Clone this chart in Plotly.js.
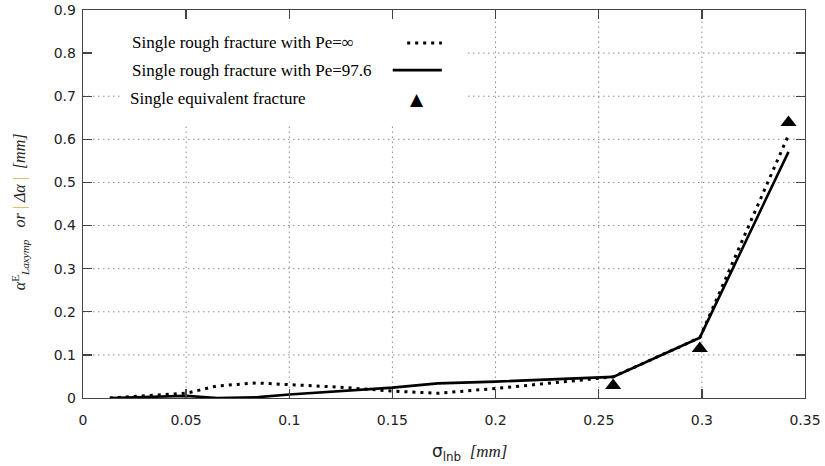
<!DOCTYPE html>
<html>
<head>
<meta charset="utf-8">
<script src="https://cdn.plot.ly/plotly-3.0.1.min.js"></script>
<style>html,body{margin:0;padding:0;background:#fff;}</style>
</head>
<body>
<div id="chart" style="width:825px;height:466px;"></div>
<script>
// Series: single rough fracture with Pe = infinity (dotted)
const xPeInf = [0.013, 0.03, 0.05, 0.065, 0.084, 0.1, 0.125, 0.15, 0.172, 0.2, 0.23, 0.257, 0.299, 0.342];
const yPeInf = [0.0, 0.005, 0.011, 0.028, 0.035, 0.031, 0.025, 0.016, 0.011, 0.022, 0.037, 0.049, 0.14, 0.61];
// Series: single rough fracture with Pe = 97.6 (solid)
const xPe976 = [0.013, 0.03, 0.05, 0.065, 0.085, 0.1, 0.13, 0.15, 0.172, 0.2, 0.257, 0.299, 0.342];
const yPe976 = [0.0, 0.003, 0.005, 0.0, 0.002, 0.008, 0.018, 0.024, 0.034, 0.038, 0.049, 0.14, 0.571];
// Series: single equivalent fracture (triangles)
const xEq = [0.257, 0.299, 0.342];
const yEq = [0.029, 0.115, 0.639];

const legendLabels = ["Single rough fracture with Pe=\u221e", "Single rough fracture with Pe=97.6", "Single equivalent fracture"];
const xTicks = [0, 0.05, 0.1, 0.15, 0.2, 0.25, 0.3, 0.35];
const xTickText = ["0", "0.05", "0.1", "0.15", "0.2", "0.25", "0.3", "0.35"];
const yTicks = [0, 0.1, 0.2, 0.3, 0.4, 0.5, 0.6, 0.7, 0.8, 0.9];
const yTickText = ["0", "0.1", "0.2", "0.3", "0.4", "0.5", "0.6", "0.7", "0.8", "0.9"];

const dotDash = "3px,5px";
const gridStyle = {color: "#8c8c8c", width: 1, dash: "1.5px,3.5px"};

const traces = [
  {x: xPeInf, y: yPeInf, mode: "lines", name: legendLabels[0],
   line: {color: "#000", width: 3, dash: dotDash}},
  {x: xPe976, y: yPe976, mode: "lines", name: legendLabels[1],
   line: {color: "#000", width: 2.6}},
  {x: xEq, y: yEq, mode: "markers", name: legendLabels[2],
   marker: {symbol: "triangle-up", size: 14, color: "#000"}}
];

const serif = "Liberation Serif, Times New Roman, serif";
const sans = "DejaVu Sans, Verdana, sans-serif";

const legY = [0.915, 0.845, 0.771];

const axisCommon = {
  showline: true, linecolor: "#444", linewidth: 1.3, mirror: "ticks",
  ticks: "inside", ticklen: 9, tickcolor: "#444", tickwidth: 1.3,
  showgrid: false, zeroline: false, tickfont: {family: sans, size: 14, color: "#222"}
};

// dotted grid (interior ticks only), drawn as shapes in the plot's lower shape layer
const gridShapes = [];
xTicks.slice(1, -1).forEach(v => gridShapes.push({type: "line", xref: "x", yref: "y",
  x0: v, x1: v, y0: yTicks[0], y1: yTicks[yTicks.length - 1], line: gridStyle, layer: "below"}));
yTicks.slice(1, -1).forEach(v => gridShapes.push({type: "line", xref: "x", yref: "y",
  x0: xTicks[0], x1: xTicks[xTicks.length - 1], y0: v, y1: v, line: gridStyle, layer: "below"}));

const layout = {
  width: 825, height: 466,
  margin: {l: 83, r: 20, t: 10, b: 68},
  paper_bgcolor: "#fff", plot_bgcolor: "#fff",
  showlegend: false,
  font: {family: sans, size: 14, color: "#222"},
  xaxis: Object.assign({range: [0, 0.35], tickvals: xTicks, ticktext: xTickText, ticklabelstandoff: 9}, axisCommon),
  yaxis: Object.assign({range: [0, 0.9], tickvals: yTicks, ticktext: yTickText, ticklabelstandoff: 3}, axisCommon),
  shapes: gridShapes.concat([
    // white backdrop behind the legend (covers the gridlines)
    {type: "rect", xref: "x", yref: "y", x0: 0.0194, x1: 0.186, y0: 0.638, y1: 0.9,
     fillcolor: "#fff", line: {width: 0}, layer: "below"},
    {type: "rect", xref: "x", yref: "y", x0: 0.0, x1: 0.186, y0: 0.75, y1: 0.9,
     fillcolor: "#fff", line: {width: 0}, layer: "below"},
    // legend samples
    {type: "line", xref: "paper", yref: "paper", x0: 0.449, x1: 0.497, y0: legY[0], y1: legY[0],
     line: {color: "#000", width: 3, dash: dotDash}},
    {type: "line", xref: "paper", yref: "paper", x0: 0.429, x1: 0.497, y0: legY[1], y1: legY[1],
     line: {color: "#000", width: 2.6}}
  ]),
  annotations: [
    {xref: "paper", yref: "paper", x: 0.065, y: legY[0], xanchor: "left", yanchor: "middle",
     text: legendLabels[0], showarrow: false, font: {family: serif, size: 17, color: "#000"}},
    {xref: "paper", yref: "paper", x: 0.065, y: legY[1], xanchor: "left", yanchor: "middle",
     text: legendLabels[1], showarrow: false, font: {family: serif, size: 17, color: "#000"}},
    {xref: "paper", yref: "paper", x: 0.062, y: legY[2], xanchor: "left", yanchor: "middle",
     text: legendLabels[2], showarrow: false, font: {family: serif, size: 17, color: "#000"}},
    {xref: "paper", yref: "paper", x: 0.4626, y: legY[2], xanchor: "center", yanchor: "middle",
     text: "\u25b2", showarrow: false, font: {family: sans, size: 17, color: "#000"}},
    // x axis title
    {xref: "paper", yref: "paper", x: 0.536, y: -0.14, xanchor: "center", yanchor: "middle",
     showarrow: false,
     text: "<span style='font-family:DejaVu Sans'>\u03c3<sub>lnb</sub></span>  <i>[mm]</i>",
     font: {family: serif, size: 17, color: "#222"}},
    // y axis title
    {xref: "paper", yref: "paper", x: -0.088, y: 0.48, xanchor: "center", yanchor: "middle",
     showarrow: false, textangle: -90,
     text: "<i>\u03b1</i><sup>E</sup><sub><i>Laxymp</i></sub>   <i>or</i> <span style='color:#e0b040'>|</span> <i>\u0394\u03b1</i> <span style='color:#e0b040'>|</span>  <i>[mm]</i>",
     font: {family: serif, size: 16, color: "#222"}}
  ]
};

Plotly.newPlot("chart", traces, layout, {staticPlot: true, displayModeBar: false});
</script>
</body>
</html>
